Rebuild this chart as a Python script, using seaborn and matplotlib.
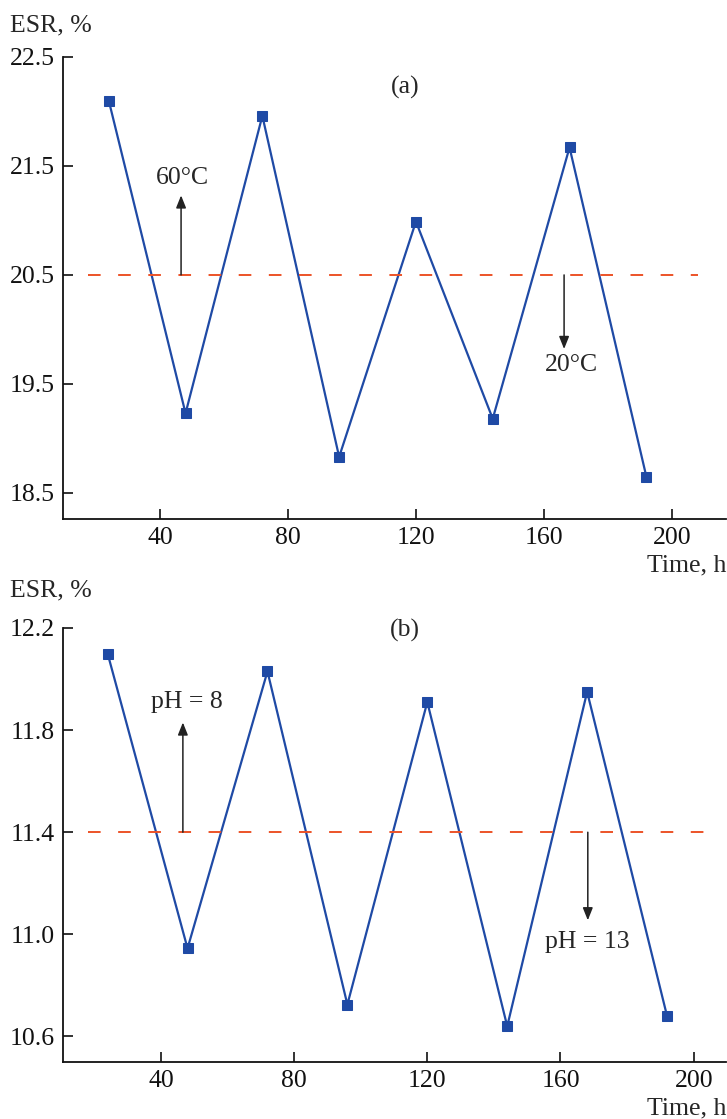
import matplotlib
matplotlib.use("Agg")
import matplotlib.pyplot as plt
import seaborn as sns
import pandas as pd

# ---- data ----
time_h = [24, 48, 72, 96, 120, 144, 168, 192]
esr_temp = [22.10, 19.23, 21.96, 18.83, 20.99, 19.18, 21.67, 18.65]
esr_ph = [12.10, 10.945, 12.03, 10.725, 11.91, 10.64, 11.95, 10.68]
temp_threshold = 20.5
ph_threshold = 11.4
yticks_a = [18.5, 19.5, 20.5, 21.5, 22.5]
yticks_b = [10.6, 11.0, 11.4, 11.8, 12.2]
xticks = [40, 80, 120, 160, 200]

sns.set_style("ticks")
plt.rcParams['font.family'] = ['Liberation Serif', 'DejaVu Serif']
plt.rcParams['mathtext.fontset'] = 'stix'

LINE = '#1f4aa5'
DASH = '#ec5328'
FS = 18.5

fig = plt.figure(figsize=(7.27, 11.19), dpi=100)
ax1 = fig.add_axes([63/727, 1-519/1119, 663/727, (519-57)/1119])
ax2 = fig.add_axes([63/727, 1-1062/1119, 663/727, (1062-628)/1119])

df_a = pd.DataFrame({"t": time_h, "v": esr_temp})
df_b = pd.DataFrame({"t": time_h, "v": esr_ph})

for ax, df, thr, yt, ylim, xlim, dash_x in [
    (ax1, df_a, temp_threshold, yticks_a, (18.26, 22.5), (9.7, 216.9), (17.6, 208.0)),
    (ax2, df_b, ph_threshold, yticks_b, (10.5, 12.2), (10.6, 209.7), (18.0, 208.0)),
]:
    sns.lineplot(data=df, x="t", y="v", ax=ax, color=LINE, lw=1.6,
                 marker='s', markersize=7.5, markeredgecolor=LINE,
                 markerfacecolor=LINE)
    ax.plot(list(dash_x), [thr, thr], color=DASH, lw=1.4, dashes=(6.5, 9))
    ax.set_xlim(*xlim)
    ax.set_ylim(*ylim)
    ax.set_xticks(xticks)
    ax.set_yticks(yt)
    ax.set_yticklabels([f"{v:.1f}" for v in yt])
    ax.set_xlabel("")
    ax.set_ylabel("")
    ax.tick_params(direction='in', length=7, width=1.2, labelsize=FS,
                   colors='#111111', pad=6)
    for s in ['top', 'right']:
        ax.spines[s].set_visible(False)
    for s in ['left', 'bottom']:
        ax.spines[s].set_linewidth(1.3)
        ax.spines[s].set_color('#111111')

arrow = dict(arrowstyle='-|>,head_length=0.75,head_width=0.3', color='#222222', lw=1.1,
             shrinkA=0, shrinkB=0)

# panel (a)
ax1.text(116.6, 22.22, "(a)", fontsize=FS, ha='center', va='center')
ax1.annotate("", xy=(46.6, 21.23), xytext=(46.6, 20.5), arrowprops=arrow)
ax1.text(47.0, 21.39, "60°C", fontsize=FS, ha='center', va='center')
ax1.annotate("", xy=(166.3, 19.82), xytext=(166.3, 20.5), arrowprops=arrow)
ax1.text(168.7, 19.67, "20°C", fontsize=FS, ha='center', va='center')

# panel (b)
ax2.text(113.3, 12.19, "(b)", fontsize=FS, ha='center', va='center')
ax2.annotate("", xy=(46.6, 11.83), xytext=(46.6, 11.4), arrowprops=arrow)
ax2.text(47.8, 11.91, "pH = 8", fontsize=FS, ha='center', va='center')
ax2.annotate("", xy=(168.2, 11.055), xytext=(168.2, 11.4), arrowprops=arrow)
ax2.text(168.0, 10.97, "pH = 13", fontsize=FS, ha='center', va='center')

fig.text(10/727, 1-25/1119, "ESR, %", fontsize=FS, ha='left', va='center')
fig.text(10/727, 1-590/1119, "ESR, %", fontsize=FS, ha='left', va='center')
fig.text(726/727, 1-565/1119, "Time, h", fontsize=FS, ha='right', va='center')
fig.text(726/727, 1-1108/1119, "Time, h", fontsize=FS, ha='right', va='center')

fig.savefig("out.png", dpi=100)
